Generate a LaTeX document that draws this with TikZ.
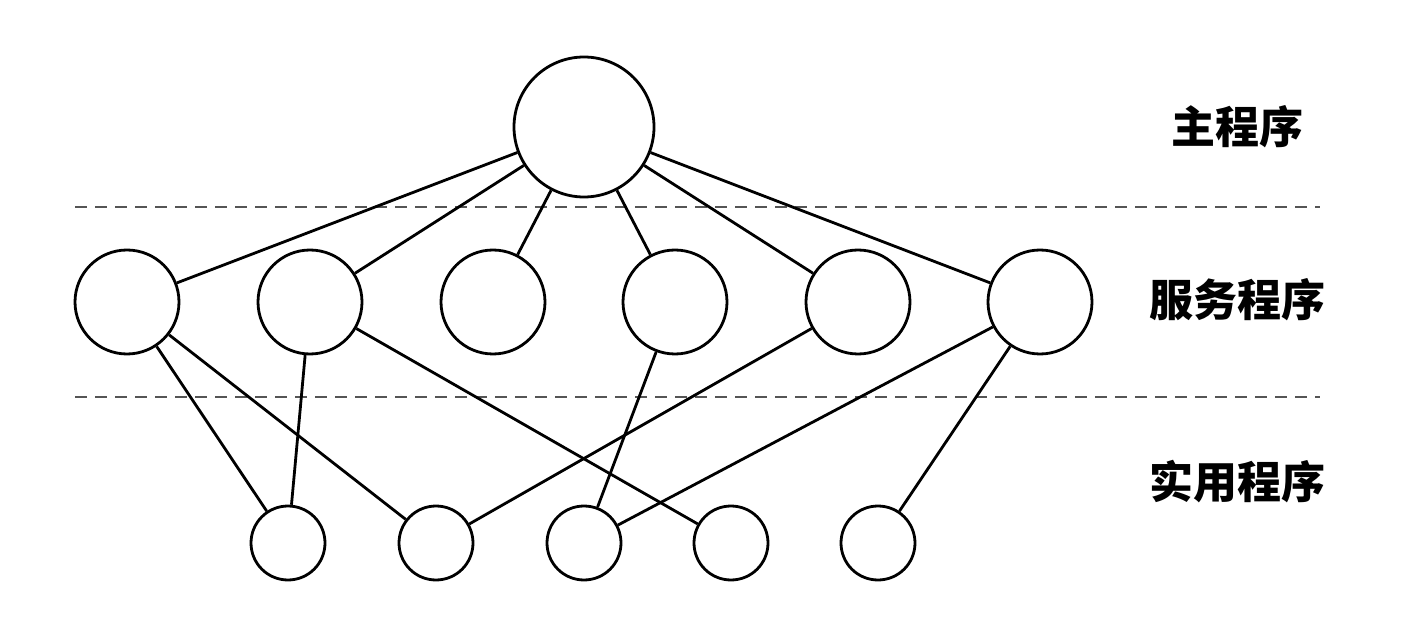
\documentclass[tikz,border=0pt]{standalone}
\usepackage{fontspec}
\newfontfamily\cjk{Noto Sans CJK SC}
\usetikzlibrary{positioning}
\tikzstyle{every link} = []
\tikzstyle{link} = [draw, line width=2.8pt, every link]
\definecolor{layer}{RGB}{85,85,85}

\begin{document}
\begin{tikzpicture}[x=1pt, y=-1pt]
        \useasboundingbox (0,0) rectangle (1414,620);
        \tikzstyle{main prog} = [circle, minimum size=140pt, inner sep=0pt]
        \tikzstyle{service} = [circle, minimum size=104pt, inner sep=0pt]
        \tikzstyle{utility} = [circle, minimum size=74pt, inner sep=0pt]
        \tikzstyle{layer label} = [font=\cjk\bfseries\fontsize{44}{50}\selectfont]
        \tikzstyle{layer line} = [draw=layer, line width=1.6pt, dash pattern=on 12pt off 8pt]

        % layers
        \coordinate (l1a) at (75,207);
        \coordinate (l1b) at (1320,207);
        \coordinate (l2a) at (75,397);
        \coordinate (l2b) at (1320,397);
        \draw[layer line] (l1a) -- (l1b);
        \draw[layer line] (l2a) -- (l2b);

        \node[main prog, draw, line width=2.8pt] (main) at (584,127) {};
        \foreach \i/\x in {1/127, 2/310, 3/493, 4/675, 5/858, 6/1040}
            \node[service, draw, line width=2.8pt] (srv\i) at (\x,302) {};
        \foreach \i/\x in {1/288, 2/436, 3/584, 4/731, 5/878}
            \node[utility, draw, line width=2.8pt] (util\i) at (\x,543) {};

        \node[layer label] (lmain) at (1237,127) {主程序};
        \node[layer label] (lsrv) at (1237,300) {服务程序};
        \node[layer label] (lutil) at (1237,482) {实用程序};

        \foreach \i in {1,...,6}
            \path[link] (main) -- (srv\i);
        \foreach \a/\b in {1/1, 1/2, 2/1, 2/4, 4/3, 5/2, 6/3, 6/5}
            \path[link] (srv\a) -- (util\b);
    \end{tikzpicture}
\end{document}
